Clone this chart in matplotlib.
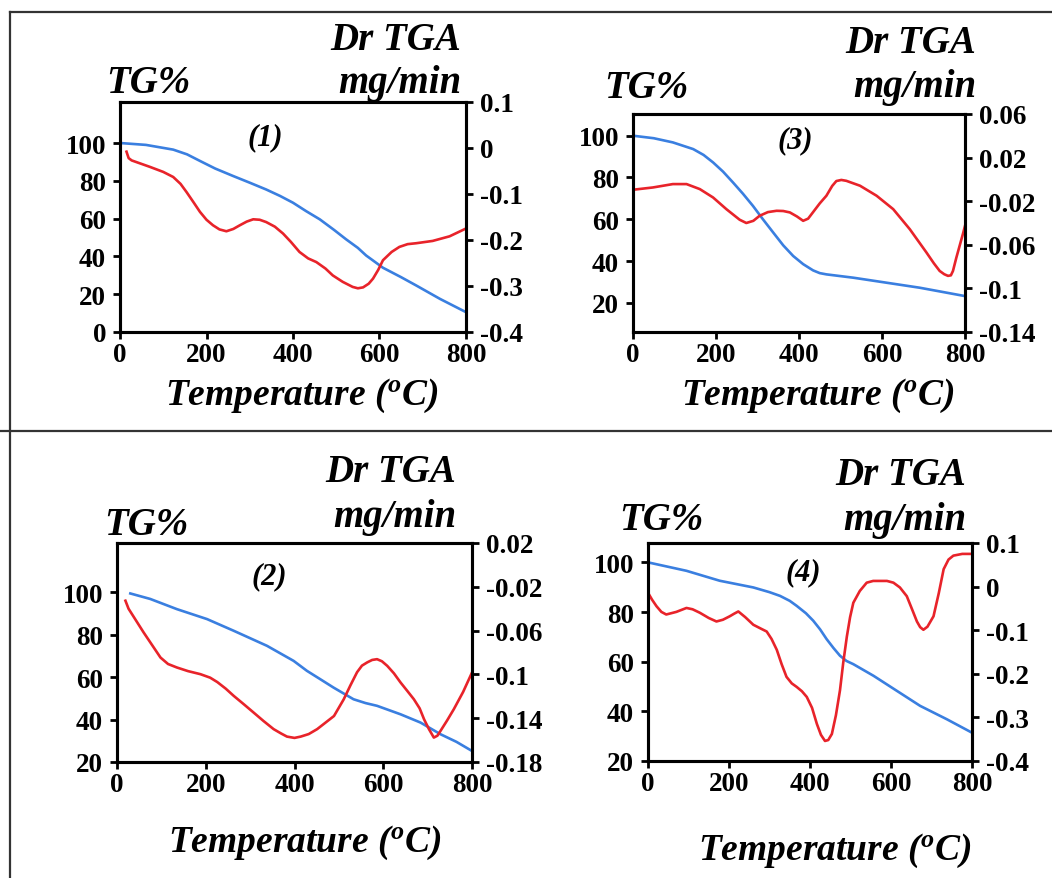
import matplotlib
matplotlib.use("Agg")
import matplotlib.pyplot as plt
from matplotlib.lines import Line2D

plt.rcParams['font.family'] = ['Liberation Serif', 'DejaVu Serif']
plt.rcParams['mathtext.fontset'] = 'custom'
plt.rcParams['mathtext.it'] = 'Liberation Serif:bold:italic'
plt.rcParams['mathtext.rm'] = 'Liberation Serif:bold'

# ---- panel (1) ----
tg1_t = [0, 60, 123, 155, 185, 220, 262, 300, 338, 370, 400, 430, 462, 495, 523, 550,
         569, 590, 608, 650, 685, 740, 800]
tg1_v = [100, 99, 96.5, 94, 90.5, 86.5, 82.5, 79, 75.4, 72, 68.4, 64, 59.6, 54, 49, 44.5,
         40.5, 37, 34, 29, 24.6, 17.5, 10.5]
dtg1_t = [15, 20, 27, 69, 100, 123, 140, 154, 170, 185, 200, 215, 230, 246, 262, 277, 293,
          308, 323, 338, 358, 377, 395, 415, 435, 454, 475, 492, 515, 538, 550, 562, 575,
          585, 597, 608, 628, 646, 665, 685, 723, 762, 800]
dtg1_v = [-0.008, -0.022, -0.027, -0.041, -0.052, -0.063, -0.078, -0.096, -0.118, -0.139,
          -0.156, -0.168, -0.177, -0.181, -0.176, -0.168, -0.160, -0.155, -0.156, -0.161,
          -0.171, -0.186, -0.204, -0.226, -0.240, -0.248, -0.262, -0.277, -0.291, -0.302,
          -0.305, -0.303, -0.295, -0.284, -0.265, -0.244, -0.226, -0.215, -0.209, -0.207,
          -0.202, -0.192, -0.175]

# ---- panel (3) ----
tg3_t = [0, 50, 96, 145, 170, 193, 217, 241, 265, 289, 313, 338, 362, 386, 410, 434, 450,
         466, 531, 611, 691, 800]
tg3_v = [100, 98.8, 96.8, 93.6, 90.8, 87.2, 82.8, 77.6, 72.2, 66.4, 60, 53.6, 47.5, 42.4,
         38.5, 35.5, 34.2, 33.6, 32, 29.6, 27.2, 23.2]
dtg3_t = [0, 48, 96, 129, 161, 193, 225, 257, 273, 290, 305, 325, 346, 362, 378, 395, 410,
          422, 434, 450, 466, 480, 490, 502, 514, 547, 587, 627, 667, 707, 725, 739, 750,
          759, 766, 771, 779, 787, 795, 800]
dtg3_v = [-0.0095, -0.0074, -0.0043, -0.0043, -0.0089, -0.0166, -0.0273, -0.037, -0.040,
          -0.038, -0.0334, -0.030, -0.0288, -0.029, -0.0303, -0.034, -0.038, -0.036, -0.030,
          -0.022, -0.015, -0.006, -0.0015, -0.0005, -0.0013, -0.0058, -0.015, -0.0273,
          -0.0457, -0.067, -0.077, -0.084, -0.087, -0.0885, -0.088, -0.084, -0.072, -0.061,
          -0.050, -0.0426]

# ---- panel (2) ----
tg2_t = [30, 75, 135, 203, 263, 338, 398, 428, 460, 488, 533, 560, 586, 639, 684, 729,
         765, 800]
tg2_v = [99.5, 96.9, 92.1, 87.4, 81.9, 74.8, 67.7, 63, 58.8, 55.1, 49.6, 47.8, 46.5, 42.5,
         38.6, 33.1, 29.5, 25.2]
dtg2_t = [19, 26, 60, 98, 115, 135, 160, 188, 210, 226, 245, 263, 285, 308, 330, 353, 370,
          383, 400, 414, 432, 451, 470, 489, 511, 526, 541, 552, 564, 575, 586, 597, 609,
          624, 639, 654, 669, 682, 692, 703, 714, 722, 729, 744, 759, 780, 800]
dtg2_v = [-0.0327, -0.040, -0.0617, -0.0846, -0.0905, -0.0937, -0.097, -0.0998, -0.103,
          -0.107, -0.113, -0.1196, -0.127, -0.1349, -0.1425, -0.150, -0.154, -0.1568,
          -0.158, -0.1568, -0.1545, -0.150, -0.144, -0.138, -0.1227, -0.110, -0.098,
          -0.092, -0.089, -0.0868, -0.0861, -0.088, -0.0922, -0.099, -0.1074, -0.115,
          -0.1227, -0.131, -0.141, -0.150, -0.1577, -0.156, -0.1516, -0.142, -0.1318,
          -0.116, -0.0983]

# ---- panel (4) ----
tg4_t = [0, 95, 177, 260, 300, 326, 350, 367, 390, 408, 425, 441, 458, 474, 490, 507, 557,
         614, 672, 738, 800]
tg4_v = [100, 96.6, 92.6, 89.9, 88, 86.5, 84.5, 82.5, 79.5, 76.5, 73, 69.1, 65.5, 62.4,
         60.3, 59, 54.3, 48.3, 42.2, 36.8, 31.4]
dtg4_t = [0, 10, 21, 33, 45, 70, 95, 110, 128, 150, 169, 185, 202, 213, 223, 240, 260, 280,
          293, 305, 318, 330, 342, 355, 367, 380, 392, 405, 417, 427, 437, 445, 454, 464,
          474, 482, 491, 499, 507, 523, 540, 556, 573, 590, 606, 622, 639, 652, 664, 672,
          680, 690, 705, 718, 730, 742, 754, 776, 800]
dtg4_v = [-0.014, -0.030, -0.045, -0.058, -0.064, -0.058, -0.049, -0.052, -0.060, -0.072,
          -0.080, -0.076, -0.068, -0.062, -0.057, -0.070, -0.0875, -0.097, -0.103, -0.120,
          -0.145, -0.178, -0.207, -0.222, -0.230, -0.240, -0.253, -0.278, -0.315, -0.340,
          -0.354, -0.352, -0.338, -0.295, -0.238, -0.175, -0.1145, -0.070, -0.037, -0.010,
          0.009, 0.013, 0.013, 0.013, 0.009, -0.002, -0.022, -0.052, -0.080, -0.093, -0.099,
          -0.092, -0.068, -0.015, 0.040, 0.062, 0.071, 0.075, 0.075]

x_ticks = [0, 200, 400, 600, 800]

W, H = 1052, 879
fig = plt.figure(figsize=(W / 100, H / 100), dpi=100)

BLUE = '#3a7fe0'
RED = '#e8232a'
tick_font = dict(family='Liberation Serif', weight='bold', size=19.5)
lab_font = dict(family='Liberation Serif', weight='bold', style='italic', size=28)


def px(x, y):
    return x / W, 1 - y / H


panels = [
    dict(box=(120, 103, 466, 333), tg=(tg1_t, tg1_v), dtg=(dtg1_t, dtg1_v),
         ylim=(0, 121.7), yticks=[0, 20, 40, 60, 80, 100],
         rlim=(-0.4, 0.1), rticks=[0.1, 0, -0.1, -0.2, -0.3, -0.4],
         rlabels=['0.1', '0', '-0.1', '-0.2', '-0.3', '-0.4'],
         tag='(1)', tagpos=(0.42, 0.85),
         tgxy=(106, 93), drx=461, dry=(50, 93), tempxy=(302, 405)),
    dict(box=(633, 115, 965, 333), tg=(tg3_t, tg3_v), dtg=(dtg3_t, dtg3_v),
         ylim=(6, 110.4), yticks=[20, 40, 60, 80, 100],
         rlim=(-0.14, 0.06), rticks=[0.06, 0.02, -0.02, -0.06, -0.1, -0.14],
         rlabels=['0.06', '0.02', '-0.02', '-0.06', '-0.1', '-0.14'],
         tag='(3)', tagpos=(0.49, 0.88),
         tgxy=(604, 98), drx=976, dry=(53, 97), tempxy=(818, 405)),
    dict(box=(117, 544, 472, 763), tg=(tg2_t, tg2_v), dtg=(dtg2_t, dtg2_v),
         ylim=(20, 123.3), yticks=[20, 40, 60, 80, 100],
         rlim=(-0.18, 0.02), rticks=[0.02, -0.02, -0.06, -0.1, -0.14, -0.18],
         rlabels=['0.02', '-0.02', '-0.06', '-0.1', '-0.14', '-0.18'],
         tag='(2)', tagpos=(0.43, 0.85),
         tgxy=(104, 535), drx=456, dry=(482, 527), tempxy=(305, 852)),
    dict(box=(648, 544, 972, 762), tg=(tg4_t, tg4_v), dtg=(dtg4_t, dtg4_v),
         ylim=(20, 107.8), yticks=[20, 40, 60, 80, 100],
         rlim=(-0.4, 0.1), rticks=[0.1, 0, -0.1, -0.2, -0.3, -0.4],
         rlabels=['0.1', '0', '-0.1', '-0.2', '-0.3', '-0.4'],
         tag='(4)', tagpos=(0.48, 0.87),
         tgxy=(619, 530), drx=966, dry=(485, 530), tempxy=(835, 860)),
]

for p in panels:
    l, t, r, b = p['box']
    ax = fig.add_axes([l / W, 1 - b / H, (r - l) / W, (b - t) / H])
    ax.plot(p['tg'][0], p['tg'][1], color=BLUE, lw=1.9)
    ax.set_xlim(0, 800)
    ax.set_ylim(*p['ylim'])
    ax.set_xticks(x_ticks)
    ax.set_xticklabels([str(v) for v in x_ticks], fontdict=tick_font)
    ax.set_yticks(p['yticks'])
    ax.set_yticklabels([str(v) for v in p['yticks']], fontdict=tick_font)
    ax.tick_params(direction='out', length=5, width=2, pad=5)
    ax.tick_params(axis='x', pad=2)

    ax2 = ax.twinx()
    ax2.plot(p['dtg'][0], p['dtg'][1], color=RED, lw=1.9)
    ax2.set_ylim(*p['rlim'])
    ax2.set_yticks(p['rticks'])
    ax2.set_yticklabels(p['rlabels'], fontdict=tick_font)
    ax2.tick_params(direction='out', length=5, width=2, pad=5)
    for a in (ax, ax2):
        for s in a.spines.values():
            s.set_linewidth(2.2)
            s.set_color('black')

    ax.text(p['tagpos'][0], p['tagpos'][1], p['tag'], transform=ax.transAxes,
            ha='center', va='center', family='Liberation Serif', weight='bold',
            style='italic', size=22)

    x0, y0 = px(*p['tgxy'])
    fig.text(x0, y0, 'TG%', ha='left', va='baseline', **lab_font)
    xr, yr1 = px(p['drx'], p['dry'][0])
    fig.text(xr, yr1, 'Dr TGA', ha='right', va='baseline', **lab_font)
    xr, yr2 = px(p['drx'], p['dry'][1])
    fig.text(xr, yr2, 'mg/min', ha='right', va='baseline', **lab_font)
    xt, yt = px(*p['tempxy'])
    fig.text(xt, yt, r'Temperature ($^{o}$C)', ha='center', va='baseline',
             family='Liberation Serif', weight='bold', style='italic', size=27)

# outer frame lines
frame = dict(color='#333333', lw=1.6, transform=fig.transFigure)
fig.add_artist(Line2D([10 / W, 1], [1 - 13 / H, 1 - 13 / H], **frame))
fig.add_artist(Line2D([10 / W, 10 / W], [1 - 13 / H, 0], **frame))
fig.add_artist(Line2D([0, 1], [1 - 432 / H, 1 - 432 / H], **frame))

fig.savefig('out.png', dpi=100)
